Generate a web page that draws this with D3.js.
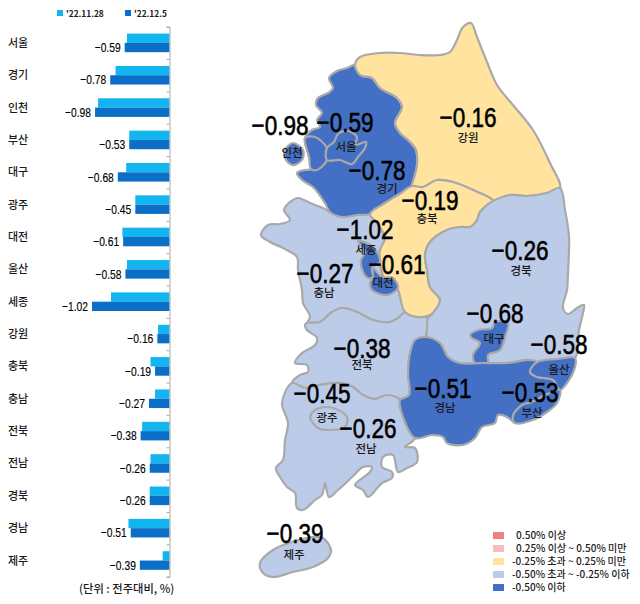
<!DOCTYPE html>
<html>
<head>
<meta charset="utf-8">
<script src="https://cdn.jsdelivr.net/npm/d3@7"></script>
<style>
  body { margin: 0; background: #fff; }
  svg { display: block; }
  text { font-family: "Noto Sans CJK KR", sans-serif; fill: #1a1a1a; }
  .num { font-family: "Liberation Sans", sans-serif; fill: #000; }
</style>
</head>
<body>
<svg id="chart" width="640" height="604"></svg>
<script>
// weekly change by region
var regions = ["서울", "경기", "인천", "부산", "대구", "광주", "대전", "울산", "세종", "강원", "충북", "충남", "전북", "전남", "경북", "경남", "제주"];
var nov28 = [-0.56, -0.71, -0.94, -0.53, -0.57, -0.45, -0.62, -0.56, -0.77, -0.15, -0.25, -0.19, -0.36, -0.25, -0.26, -0.54, -0.09];
var dec5 = [-0.59, -0.78, -0.98, -0.53, -0.68, -0.45, -0.61, -0.58, -1.02, -0.16, -0.19, -0.27, -0.38, -0.26, -0.26, -0.51, -0.39];
var seriesNames = ["'22.11.28", "'22.12.5"];
var legendLabels = ["0.50% 이상", "0.25% 이상 ~ 0.50% 미만", "-0.25% 초과 ~ 0.25% 미만", "-0.50% 초과 ~ -0.25% 이하", "-0.50% 이하"];
var legendColors = ["#ee7f83", "#f8bcbe", "#ffe39f", "#bccbe8", "#4370c4"];
var thresholds = [-0.5, -0.25, 0.25, 0.5];
var unitLabel = "(단위 : 전주대비, %)";

// region outlines, in page pixels
var outlines = {
  "충남": [[[298,198],[310,203],[323,208],[330,212],[342,217],[357,215],[370,214],[377,223],[385,238],[380,250],[380,262],[385,280],[398,290],[400,297],[405,312],[398,318],[390,322],[373,320],[357,312],[342,308],[332,312],[320,322],[307,323],[305,325],[310,317],[303,303],[302,290],[298,270],[297,257],[283,248],[270,242],[261,235],[268,225],[280,224],[290,220],[284,210],[290,202]]],
  "전북": [[[305,325],[307,323],[320,322],[332,312],[342,308],[357,312],[373,320],[390,322],[398,318],[405,312],[417,317],[428,318],[427,330],[425,337],[415,340],[410,353],[408,373],[409,395],[400,400],[387,395],[375,399],[363,395],[353,387],[340,383],[320,385],[305,388],[292,383],[300,375],[308,372],[307,365],[295,363],[302,353],[315,345],[317,338],[307,330]]],
  "전남": [[[292,383],[305,388],[320,385],[340,383],[353,387],[363,395],[375,399],[387,395],[400,400],[403,417],[415,438],[405,447],[415,448],[417,462],[407,468],[398,472],[393,455],[383,457],[382,467],[392,472],[392,478],[382,483],[368,497],[363,490],[355,485],[370,472],[372,467],[363,467],[352,477],[338,490],[329,497],[325,483],[322,495],[315,500],[303,510],[297,508],[295,493],[287,487],[280,477],[276,468],[283,460],[285,440],[288,423],[282,403]]],
  "광주": [[[310,417],[317,409],[333,408],[347,417],[345,427],[330,430],[318,428]]],
  "경기": [[[355,65],[360,75],[372,78],[380,88],[397,98],[402,107],[395,123],[400,133],[408,140],[416,150],[417,165],[414,178],[412,186],[398,195],[385,203],[370,214],[357,215],[342,217],[330,212],[325,203],[313,187],[302,180],[297,173],[304,170],[311,169],[309,157],[305,138],[312,130],[320,127],[317,120],[322,113],[316,105],[318,98],[328,93],[333,88],[329,78],[337,71],[347,68]]],
  "인천": [[[305,138],[315,137],[327,148],[327,160],[317,170],[311,169],[309,157]], [[285,150],[293,143],[303,150],[302,160],[292,165],[285,158]]],
  "서울": [[[334,142],[338,134],[348,131],[357,137],[355,145],[366,142],[365,148],[358,157],[352,164],[340,160],[327,160],[327,148]]],
  "강원": [[[355,65],[360,57],[380,53],[400,53],[420,55],[440,55],[450,52],[457,40],[463,27],[471,23],[477,37],[487,62],[497,85],[513,105],[533,130],[550,163],[560,188],[547,193],[527,196],[510,195],[493,201],[473,190],[453,182],[437,180],[423,187],[412,186],[414,178],[417,165],[416,150],[408,140],[400,133],[395,123],[402,107],[397,98],[380,88],[372,78],[360,75]]],
  "충북": [[[370,214],[385,203],[398,195],[412,186],[423,187],[437,180],[453,182],[473,190],[493,201],[480,212],[477,220],[470,227],[460,227],[447,230],[430,242],[425,255],[427,270],[430,287],[440,300],[433,313],[420,317],[405,312],[400,297],[398,290],[385,280],[380,262],[380,250],[385,238],[377,223]]],
  "세종": [[[358,241],[370,245],[377,252],[380,262],[372,268],[373,277],[368,278],[363,272],[361,260],[365,252]]],
  "대전": [[[373,268],[382,277],[393,278],[398,288],[387,295],[372,290],[370,283],[373,277]]],
  "경북": [[[493,201],[510,195],[527,196],[547,193],[560,188],[565,210],[569,237],[568,273],[567,290],[563,308],[568,314],[577,308],[584,305],[583,313],[579,330],[575,358],[557,359],[537,362],[530,360],[507,363],[483,363],[460,363],[448,357],[440,343],[427,337],[427,330],[428,318],[433,313],[440,300],[430,287],[427,270],[425,255],[430,242],[447,230],[460,227],[470,227],[477,220],[480,212]]],
  "대구": [[[470,335],[478,330],[492,328],[495,322],[508,323],[505,337],[500,350],[488,355],[488,364],[475,363],[473,355],[480,343],[472,338]]],
  "경남": [[[425,337],[440,343],[448,357],[460,363],[483,363],[507,363],[530,360],[537,362],[530,372],[537,377],[553,380],[560,390],[545,395],[532,402],[522,405],[513,416],[515,423],[507,417],[498,415],[495,423],[482,427],[475,438],[463,445],[447,443],[443,437],[432,435],[415,438],[403,417],[400,400],[409,395],[408,373],[410,353],[415,340]]],
  "울산": [[[575,358],[557,359],[537,362],[530,372],[537,377],[553,380],[560,390],[567,383],[575,367]]],
  "부산": [[[515,423],[513,416],[522,405],[532,402],[545,395],[560,390],[557,403],[547,412],[533,420]]],
  "제주": [[[323,538],[331,550],[328,558],[313,567],[293,572],[273,577],[263,573],[260,563],[273,550],[295,541],[313,537]]]
};
var drawOrder = ["충남", "전북", "전남", "광주", "경기", "인천", "서울", "강원", "충북", "세종", "대전", "경북", "대구", "경남", "울산", "부산", "제주"];

// where the value and the name sit on the map
var valueSpots = {"서울":[345,122],"경기":[377,170],"인천":[280,125],"부산":[530,392],"대구":[495,313],"광주":[322,393],"대전":[397,264],"울산":[559,344],"세종":[365,229],"강원":[468,117],"충북":[430,200],"충남":[325,273],"전북":[362,348],"전남":[368,428],"경북":[520,250],"경남":[443,388],"제주":[295,533]};
var nameSpots = {"서울":[346,147],"경기":[387,189],"인천":[292,153],"부산":[532,413],"대구":[494,339],"광주":[327,418],"대전":[383,283],"울산":[559,370],"세종":[366,250],"강원":[468,138],"충북":[427,219],"충남":[324,293],"전북":[362,365],"전남":[366,449],"경북":[521,271],"경남":[445,408],"제주":[294,555]};

var svg = d3.select("#chart");
var fmt = d3.format(".2f");
var barColors = ["#12b5f0", "#0b6fc8"];

// ---- bars on the left ----
var x = d3.scaleLinear().domain([-1.02, 0]).range([92, 169.5]);
var y = d3.scaleBand().domain(regions).range([26.7, 576.7]);
var rowEdge = d3.scaleLinear().domain([0, regions.length]).range([26.7, 576.7]);
var barH = 9.3;

var bars = svg.append("g");
[nov28, dec5].forEach(function (series, s) {
  bars.selectAll("rect.s" + s)
    .data(series)
    .enter().append("rect")
    .attr("class", "s" + s)
    .attr("x", function (d) { return x(d); })
    .attr("y", function (d, i) { return y(regions[i]) + y.bandwidth() / 2 - barH + s * barH; })
    .attr("width", function (d) { return x(0) - x(d); })
    .attr("height", barH)
    .attr("fill", barColors[s]);
});

// no narrow face installed, so squeeze the numbers to the reference's width
bars.selectAll("text.val")
  .data(dec5)
  .enter().append("text")
  .attr("class", "val num")
  .attr("x", function (d) { return x(d) - 4; })
  .attr("y", function (d, i) { return y(regions[i]) + y.bandwidth() / 2 + barH / 2 + 4.6; })
  .attr("text-anchor", "end")
  .attr("font-size", 13.5)
  .attr("textLength", 26)
  .attr("lengthAdjust", "spacingAndGlyphs")
  .attr("stroke", "#000")
  .attr("stroke-width", 0.15)
  .text(function (d) { return fmt(d); });

bars.selectAll("text.cat")
  .data(regions)
  .enter().append("text")
  .attr("class", "cat")
  .attr("x", 18)
  .attr("y", function (d) { return y(d) + y.bandwidth() / 2 + 4; })
  .attr("text-anchor", "middle")
  .attr("font-size", 11)
  .attr("font-weight", 500)
  .text(function (d) { return d; });

var axis = svg.append("g")
  .attr("transform", "translate(" + x(0) + ",0)")
  .call(d3.axisLeft(rowEdge).ticks(regions.length).tickSize(3).tickSizeOuter(3).tickFormat(""));
axis.selectAll("path, line").attr("stroke", "#a8a8a8");

svg.append("text")
  .attr("x", 79).attr("y", 593)
  .attr("font-size", 11.3)
  .attr("font-weight", 500)
  .text(unitLabel);

// top legend
var topLegend = svg.selectAll("g.top")
  .data(seriesNames)
  .enter().append("g")
  .attr("class", "top")
  .attr("transform", function (d, i) { return "translate(" + (57 + i * 68) + ",10)"; });
topLegend.append("rect")
  .attr("width", 6).attr("height", 6)
  .attr("fill", function (d, i) { return barColors[i]; });
topLegend.append("text")
  .attr("x", 9).attr("y", 6.5)
  .attr("font-size", 8.4)
  .attr("font-weight", 700)
  .text(function (d) { return d; });

// ---- map ----
var fillFor = d3.scaleThreshold()
  .domain(thresholds)
  .range(legendColors.slice().reverse());

var outline = d3.line().curve(d3.curveCatmullRomClosed.alpha(0.5));
var valueOf = function (name) { return dec5[regions.indexOf(name)]; };

svg.append("g").selectAll("path")
  .data(drawOrder)
  .enter().append("path")
  .attr("d", function (d) { return outlines[d].map(function (ring) { return outline(ring); }).join(""); })
  .attr("fill", function (d) { return fillFor(valueOf(d)); })
  .attr("stroke", "#a9a9a9")
  .attr("stroke-width", 2.2)
  .attr("stroke-linejoin", "round");

svg.append("g").selectAll("text")
  .data(regions)
  .enter().append("text")
  .attr("x", function (d) { return nameSpots[d][0]; })
  .attr("y", function (d) { return nameSpots[d][1] + 4.2; })
  .attr("text-anchor", "middle")
  .attr("font-size", 11.5)
  .attr("font-weight", 500)
  .text(function (d) { return d; });

svg.append("g").selectAll("text")
  .data(regions)
  .enter().append("text")
  .attr("class", "num")
  .attr("x", function (d) { return valueSpots[d][0]; })
  .attr("y", function (d) { return valueSpots[d][1] + 10; })
  .attr("text-anchor", "middle")
  .attr("font-size", 28.5)
  .attr("textLength", 57)
  .attr("lengthAdjust", "spacingAndGlyphs")
  .attr("stroke", "#000")
  .attr("stroke-width", 0.6)
  .text(function (d) { return fmt(valueOf(d)); });

// ---- colour legend ----
var legendY = d3.scalePoint().domain(legendLabels).range([535.5, 587.5]);
var legend = svg.append("g");
legend.selectAll("rect")
  .data(legendLabels)
  .enter().append("rect")
  .attr("x", 493).attr("y", function (d) { return legendY(d) - 3.5; })
  .attr("width", 11).attr("height", 7)
  .attr("fill", function (d, i) { return legendColors[i]; });
legend.selectAll("text")
  .data(legendLabels)
  .enter().append("text")
  .attr("x", function (d, i) { return i < 2 ? 516 : 512; })
  .attr("y", function (d) { return legendY(d) + 3.5; })
  .attr("font-size", 10)
  .attr("font-weight", 500)
  .attr("fill", "#333")
  .text(function (d) { return d; });
</script>
</body>
</html>
